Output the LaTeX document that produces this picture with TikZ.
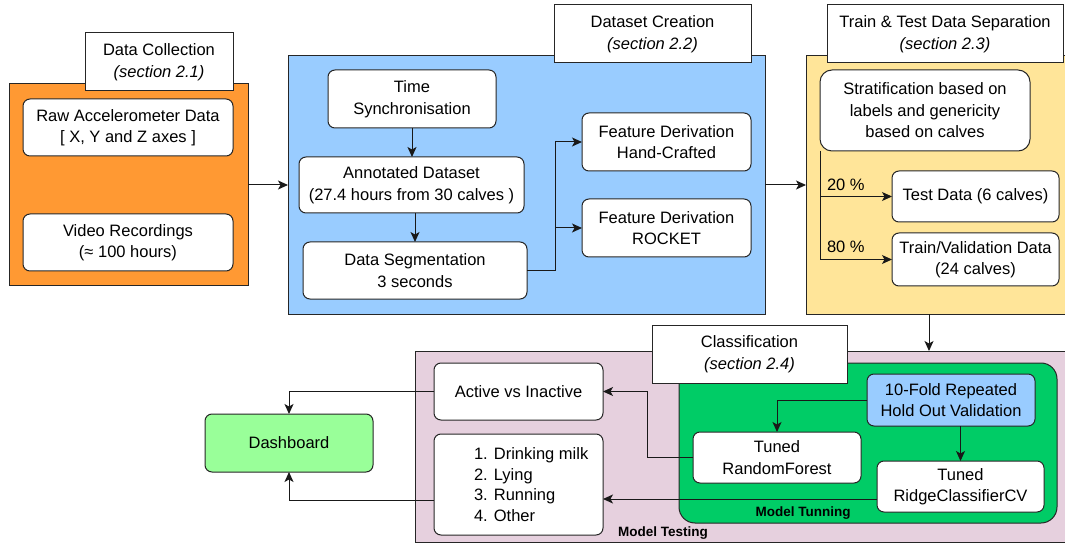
\documentclass[tikz,border=0pt]{standalone}
\usepackage{fontspec}
\setmainfont{Liberation Sans}
\usetikzlibrary{arrows.meta,calc}
\definecolor{corange}{HTML}{FF9933}
\definecolor{cblue}{HTML}{99CCFF}
\definecolor{cyellow}{HTML}{FFE599}
\definecolor{cpink}{HTML}{E6D0DE}
\definecolor{cgreen}{HTML}{00CC66}
\definecolor{cdash}{HTML}{99FF99}
\tikzset{
  every node/.style={font=\fontsize{16.5}{21.5}\selectfont, inner sep=0pt, outer sep=0pt},
  wh/.style 2 args={minimum width=#1pt, minimum height=#2pt},
  cont/.style={draw=black!85, line width=1pt, rectangle},
  ttl/.style={draw=black!85, line width=1pt, fill=white, rectangle, align=center},
  rbox/.style={draw=black!85, line width=1pt, fill=white, rounded corners=7pt, align=center},
  arr/.style={draw=black!90, line width=1pt, -{Stealth[length=10pt,width=9pt,inset=2.5pt]}},
  lbl/.style={font=\fontsize{16.5}{21.5}\selectfont},
  bold/.style={font=\fontsize{13.5}{16}\selectfont\bfseries},
}
\begin{document}
\begin{tikzpicture}[x=1pt,y=-1pt]
\useasboundingbox (0,0) rectangle (1065,545);
% containers
\node[cont, fill=corange, wh={239}{202}] (dc) at (128.5,185) {};
\node[cont, fill=cblue, wh={477}{258}] (ds) at (526.5,185) {};
\node[cont, fill=cyellow, wh={269}{258}] (tt) at (940.5,185) {};
\node[cont, fill=cpink, wh={660}{191}] (mt) at (745,446.5) {};
\node[draw=black!85, line width=1pt, fill=cgreen, rounded corners=16pt, wh={378}{160}] (mtun) at (868,443) {};
% titles
\node[ttl, wh={148}{58}] (dctitle) at (159,62) {Data Collection\\\textit{(section 2.1)}};
\node[ttl, wh={197}{58}] (dstitle) at (652.5,34) {Dataset Creation\\\textit{(section 2.2)}};
\node[ttl, wh={236}{58}] (tttitle) at (945,34) {Train \& Test Data Separation\\\textit{(section 2.3)}};
\node[ttl, wh={195}{58}] (cltitle) at (749.5,354) {Classification\\\textit{(section 2.4)}};
% data collection
\node[rbox, wh={210}{57}] (raw) at (128,127.5) {Raw Accelerometer Data\\{[} X, Y and Z axes ]};
\node[rbox, wh={210}{57}] (video) at (128,242.5) {Video Recordings\\(≈ 100 hours)};
% dataset creation
\node[rbox, wh={168}{58}] (sync) at (412,99) {Time\\Synchronisation};
\node[rbox, wh={225}{56}] (annot) at (411.5,185) {Annotated Dataset\\(27.4 hours from 30 calves )};
\node[rbox, wh={224}{57}] (seg) at (415,270.5) {Data Segmentation\\3 seconds};
\node[rbox, wh={169}{58}] (fhc) at (666.5,142) {Feature Derivation\\Hand-Crafted};
\node[rbox, wh={169}{58}] (frk) at (666.5,228) {Feature Derivation\\ROCKET};
% train/test
\node[rbox, wh={210}{81}, rounded corners=12pt] (strat) at (925,110.5) {Stratification based on\\labels and genericity\\based on calves};
\node[rbox, wh={167}{51}] (test) at (975.5,196.5) {Test Data (6 calves)};
\node[rbox, wh={167}{53}] (train) at (975.5,259.5) {Train/Validation Data\\(24 calves)};
% classification
\node[rbox, fill=cblue, wh={168}{52}] (fold) at (951,400) {10-Fold Repeated\\Hold Out Validation};
\node[rbox, wh={168}{51}] (rf) at (777,457.5) {Tuned\\RandomForest};
\node[rbox, wh={167}{51}] (ridge) at (960.5,486.5) {Tuned\\RidgeClassifierCV};
\node[rbox, wh={169}{57}] (active) at (518.5,391.5) {Active vs Inactive};
\node[rbox, wh={169}{101}] (list) at (518.5,484.5) {};
\node[anchor=west, align=left, font=\fontsize{16.5}{20.7}\selectfont] (listtxt) at (474,484.5) {1. Drinking milk\\2. Lying\\3. Running\\4. Other};
\node[rbox, fill=cdash, wh={168}{58}] (dash) at (289,443) {Dashboard};
\node[bold] (tunlbl) at (803,513) {Model Tunning};
\node[bold] (testlbl) at (663,533) {Model Testing};
% connectors
\draw[arr] (dc.east) -- (ds.west);
\draw[arr] (sync.south) -- (sync.south |- annot.north);
\draw[arr] ([xshift=3.5pt]annot.south) -- ([xshift=3.5pt]annot.south |- seg.north);
\coordinate (sj) at (555,0);
\draw[arr] (seg.east |- 0,271) -| (sj |- fhc.west) -- (fhc.west);
\draw[arr] (seg.east |- 0,271) -| (sj |- frk.west) -- (frk.west);
\draw[arr] (ds.east) -- (tt.west);
\coordinate (sv) at (820,151);
\draw[arr] (sv) |- (test.west);
\draw[arr] (sv) |- (train.west);
\node[lbl, anchor=south west] (p20) at (827,191) {20 \%};
\node[lbl, anchor=south west] (p80) at (827,253) {80 \%};
\coordinate (yt) at (929,0);
\draw[arr] (yt |- tt.south) -- (yt |- mt.north);
\draw[arr] (fold.west) -| (rf.north);
\draw[arr] (ridge.north |- fold.south) -- (ridge.north);
\draw[arr] (rf.west) -- ++(-46,0) |- (active.east);
\draw[arr] (ridge.west |- 0,499) -- (list.east |- 0,499);
\draw[arr] (active.west) -| (dash.north);
\draw[arr] (list.west |- 0,500) -| (dash.south);
\end{tikzpicture}
\end{document}
